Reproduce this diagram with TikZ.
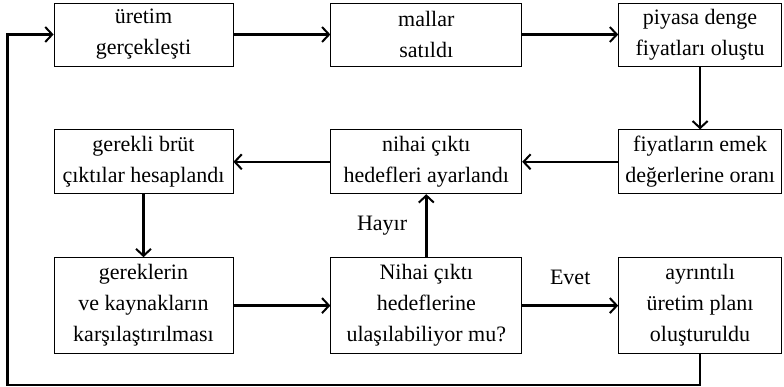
\documentclass[tikz,border=0pt]{standalone}
\usepackage{fontspec}
\setmainfont{Liberation Serif}
\usepackage{tikz}
\usetikzlibrary{positioning, arrows.meta}

\begin{document}
\begin{tikzpicture}[
      x=1pt, y=1pt,
      font=\fontsize{22}{31}\selectfont,
      node distance=63pt and 97pt,
      box/.style={draw, line width=0.8pt, align=center, inner sep=2pt, minimum height=63pt},
      colA/.style={box, minimum width=179pt},
      colB/.style={box, minimum width=191pt},
      colC/.style={box, minimum width=163pt},
      arr/.style={-{Straight Barb[length=7pt, width=15pt, line width=2pt]}, line width=2.4pt},
      lbl/.style={inner sep=0pt},
    ]
    \useasboundingbox (0,0) rectangle (784,-387);

    % first row
    \node[colA] (uretim) at (143.5,-34.5) {üretim\\gerçekleşti};
    \node[colB, right=97pt of uretim] (mallar) {mallar\\satıldı};
    \node[colC, right=96pt of mallar] (piyasa) {piyasa denge\\fiyatları oluştu};

    % second row
    \node[colA, below=of uretim, minimum height=64pt] (brut) {gerekli brüt\\çıktılar hesaplandı};
    \node[colB, below=of mallar, minimum height=64pt] (hedef) {nihai çıktı\\hedefleri ayarlandı};
    \node[colC, below=of piyasa, minimum height=64pt] (oran) {fiyatların emek\\değerlerine oranı};

    % third row
    \node[colA, below=of brut, minimum height=96pt] (karsi) {gereklerin\\ve kaynakların\\karşılaştırılması};
    \node[colB, below=of hedef, minimum height=96pt] (soru) {Nihai çıktı\\hedeflerine\\ulaşılabiliyor mu?};
    \node[colC, below=of oran, minimum height=96pt] (plan) {ayrıntılı\\üretim planı\\oluşturuldu};

    \draw[arr] (uretim) -- (mallar);
    \draw[arr] (mallar) -- (piyasa);
    \draw[arr] (piyasa) -- (oran);
    \draw[arr] (oran) -- (hedef);
    \draw[arr] (hedef) -- (brut);
    \draw[arr] (brut) -- (karsi);
    \draw[arr] (karsi) -- (soru);
    \draw[arr] (soru) -- node[lbl, above=20pt] (evet) {Evet} (plan);
    \draw[arr] (soru) -- node[lbl, left=18pt] (hayir) {Hayır} (hedef);
    \draw[arr] (plan.south) -- ++(0,-31) -| ([xshift=-46pt]uretim.west) -- (uretim.west);
  \end{tikzpicture}
\end{document}
